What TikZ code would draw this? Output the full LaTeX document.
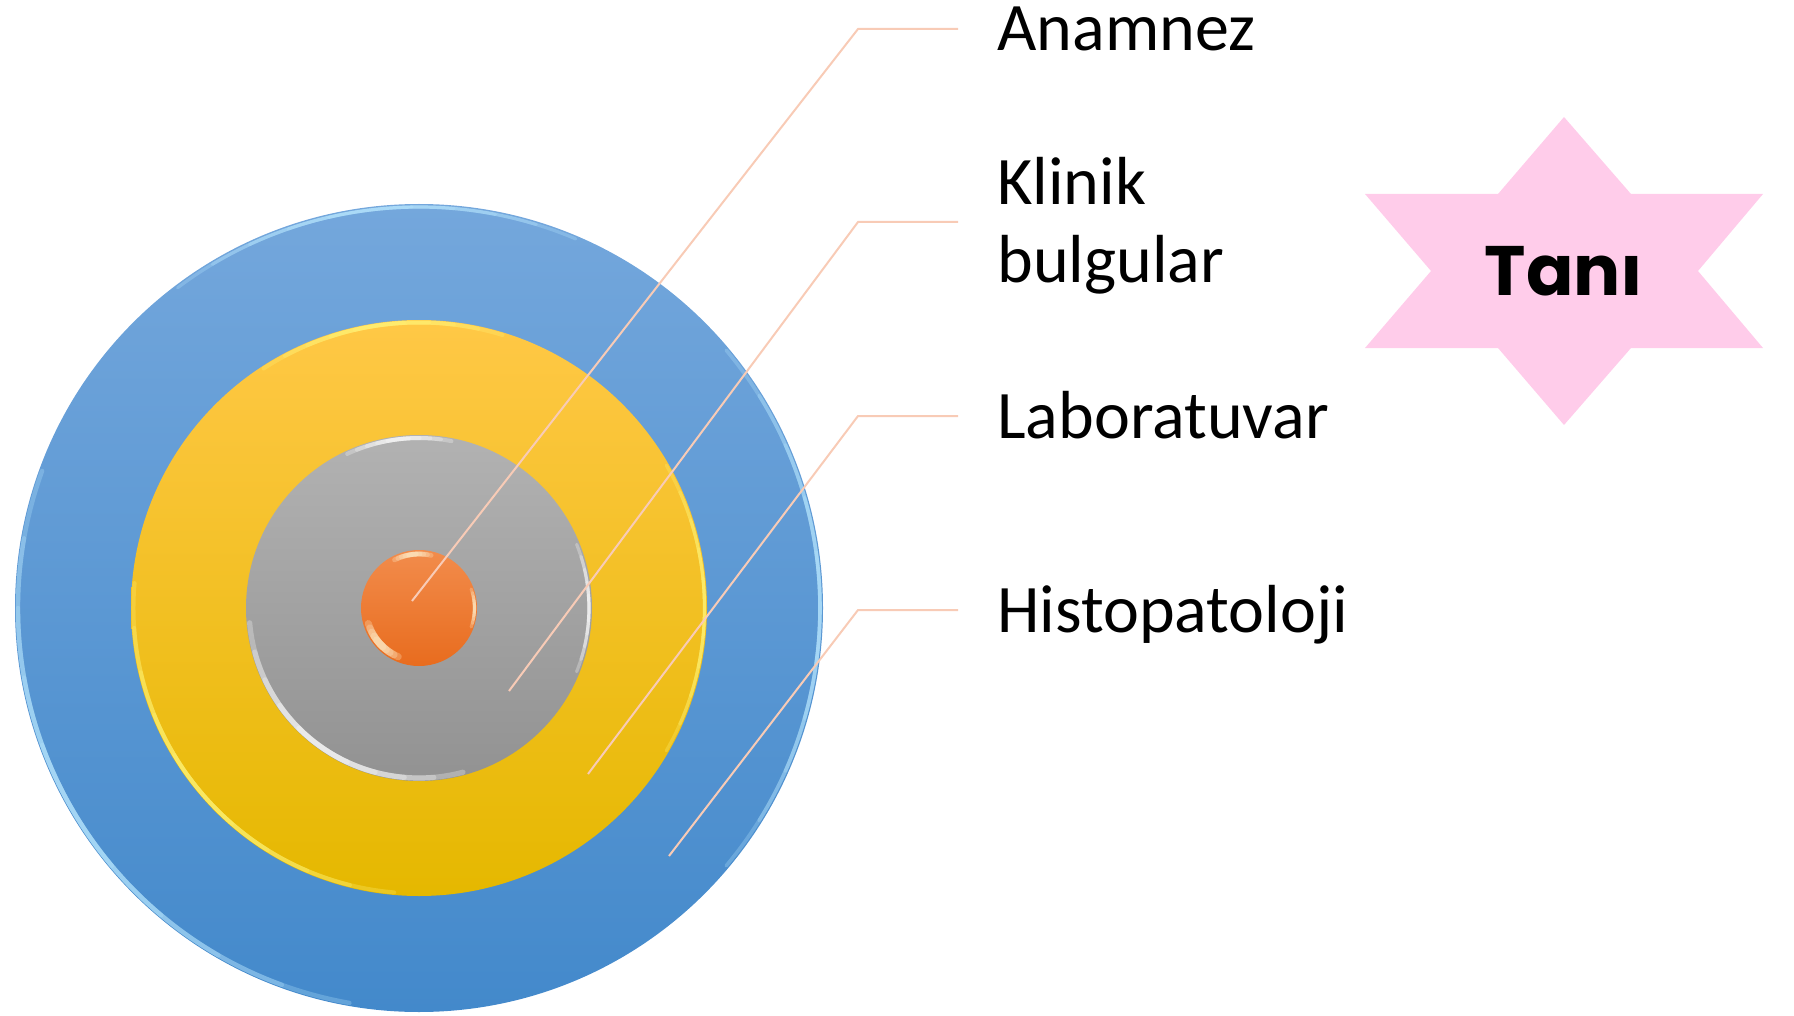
\documentclass[tikz,border=0pt]{standalone}
\usepackage{fontspec}
\setmainfont{Carlito}
\newfontfamily\tanifont{Poppins}
\definecolor{blueTop}{RGB}{116,167,220}
\definecolor{blueBot}{RGB}{67,137,203}
\definecolor{yelTop}{RGB}{255,200,70}
\definecolor{yelMid}{RGB}{255,198,0}
\definecolor{yelBot}{RGB}{229,184,0}
\definecolor{grayTop}{RGB}{178,178,178}
\definecolor{grayBot}{RGB}{146,146,146}
\definecolor{orTop}{RGB}{242,140,76}
\definecolor{orBot}{RGB}{232,108,30}
\definecolor{leader}{RGB}{248,203,182}
\definecolor{starPink}{RGB}{255,204,234}
\definecolor{rimBlue}{RGB}{185,232,255}
\definecolor{rimYel}{RGB}{255,245,120}
\definecolor{rimWhite}{RGB}{255,255,255}
\definecolor{rimOr}{RGB}{255,240,205}
% glossy rim: radius, visual centre angle, half span, colour, width
% (angles are negated because the y axis points down)
\newcommand\glossrim[5]{%
  \foreach \k in {1,...,5}{%
    \pgfmathsetmacro\hs{#3*\k/5}%
    \pgfmathsetmacro\sa{-(#2)+\hs}%
    \pgfmathsetmacro\ea{-(#2)-\hs}%
    \draw[#4,line width=#5,opacity=.28,line cap=round]
      (c) ++(\sa:#1) arc[start angle=\sa,end angle=\ea,radius=#1];
  }}
\begin{document}
\begin{tikzpicture}[x=0.5pt,y=-0.5pt,
  leaderline/.style={draw=leader,line width=1pt},
  lbl/.style={font=\fontsize{34}{39}\selectfont,anchor=base west,inner sep=0pt,text=black}]
\useasboundingbox (0,0) rectangle (1794,1016);
\coordinate (c) at (419,608);

% concentric discs
\shade[top color=blueTop,bottom color=blueBot] (c) circle[radius=404];
\shade[top color=yelTop,middle color=yelMid,bottom color=yelBot] (c) circle[radius=288];
\shade[top color=grayTop,bottom color=grayBot] (c) circle[radius=173];
\shade[top color=orTop,bottom color=orBot] (c) circle[radius=58];

% glossy rims
\glossrim{401}{210}{50}{rimBlue}{2.2pt}
\glossrim{401}{97}{30}{rimBlue}{1.6pt}
\glossrim{401}{0}{40}{rimBlue}{1.8pt}
\glossrim{285.5}{98}{25}{rimYel}{2pt}
\glossrim{285.5}{220}{45}{rimYel}{2pt}
\glossrim{285.5}{0}{30}{rimYel}{1.6pt}
\glossrim{170}{235}{50}{rimWhite}{2.6pt}
\glossrim{170}{97}{18}{rimWhite}{2pt}
\glossrim{170}{0}{22}{rimWhite}{1.6pt}
\glossrim{53}{222}{25}{rimOr}{3.5pt}
\glossrim{54}{97}{20}{rimOr}{2.4pt}
\glossrim{55.5}{0}{20}{rimOr}{1.6pt}

% labels
\node[lbl] (anamnez) at (997,51) {Anamnez};
\node[lbl] (klinik) at (997,205) {Klinik};
\node[lbl] (bulgular) at (997,283) {bulgular};
\node[lbl] (lab) at (997,438.5) {Laboratuvar};
\node[lbl] (histo) at (997,632) {Histopatoloji};

% leader lines
\coordinate (a1) at (412,601);  \coordinate (a2) at (858,29);  \coordinate (a3) at (958,29);
\coordinate (k1) at (509,691);  \coordinate (k2) at (858,222); \coordinate (k3) at (958,222);
\coordinate (l1) at (588,774);  \coordinate (l2) at (858,416); \coordinate (l3) at (958,416);
\coordinate (h1) at (669,856);  \coordinate (h2) at (858,610); \coordinate (h3) at (958,610);
\draw[leaderline] (a1) -- (a2) -- (a3);
\draw[leaderline] (k1) -- (k2) -- (k3);
\draw[leaderline] (l1) -- (l2) -- (l3);
\draw[leaderline] (h1) -- (h2) -- (h3);

% six-pointed star
\fill[starPink] (1564,117) -- (1631,194) -- (1763,194) -- (1698,271) -- (1763,348)
  -- (1631,348) -- (1564,425) -- (1498,348) -- (1365,348) -- (1431,271)
  -- (1365,194) -- (1498,194) -- cycle;
\node[font=\tanifont\bfseries\fontsize{35}{38}\selectfont,inner sep=0pt] (tani) at (1564,271) {Tanı};
\end{tikzpicture}
\end{document}
